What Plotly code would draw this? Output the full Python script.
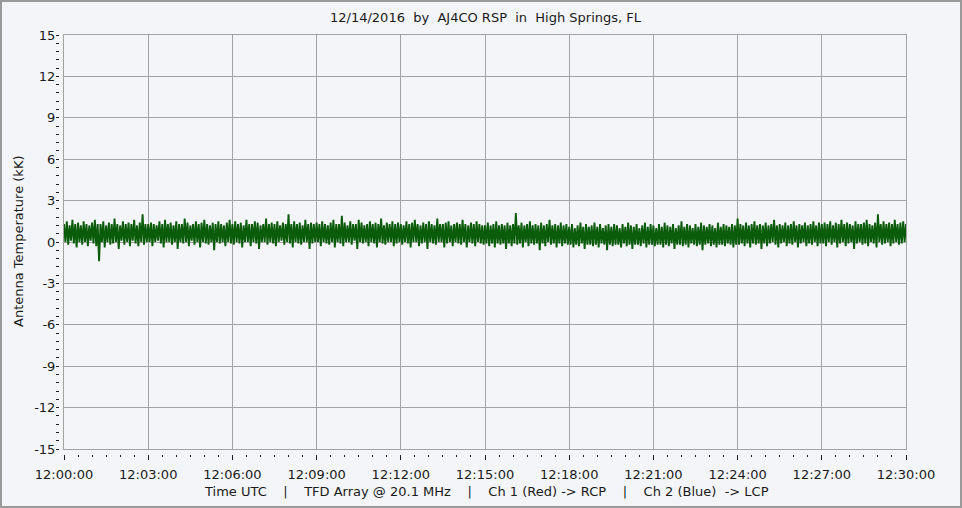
import pandas as pd
import plotly.graph_objects as go

# ---------------- data ----------------
title_text = "12/14/2016  by  AJ4CO RSP  in  High Springs, FL"
x_title_text = "Time UTC    |    TFD Array @ 20.1 MHz    |    Ch 1 (Red) -> RCP    |    Ch 2 (Blue)  -> LCP"
y_title_text = "Antenna Temperature (kK)"

t_start = "2016-12-14 12:00:00"
t_end = "2016-12-14 12:30:00"

y_tick_vals = [-15, -12, -9, -6, -3, 0, 3, 6, 9, 12, 15]
y_tick_labels = ["-15", "-12", "-9", "-6", "-3", "0", "3", "6", "9", "12", "15"]

# antenna temperature (kK), one 3-minute block per list
seg_1200 = [1.3, 0.0, 1.5, -0.2, 1.2, 0.1, 1.6, -0.1, 1.3, -0.4,
            1.4, 0.0, 1.2, -0.2, 1.5, 0.0, 1.3, -0.3, 1.2, 0.1,
            1.4, -0.1, 1.6, -0.3, 1.3, -1.4, 1.3, 0.0, 1.5, -0.4,
            1.2, 0.0, 1.4, -0.2, 1.3, -0.1, 1.7, 0.0, 1.3, -0.5,
            1.2, 0.1, 1.5, -0.2, 1.3, 0.0, 1.4, -0.3, 1.3, 0.1,
            1.6, -0.1, 1.2, -0.3, 1.4, 0.0, 2.0, -0.2, 1.3, 0.0]
seg_1203 = [1.3, 0.0, 1.4, -0.3, 1.3, 0.0, 1.2, 0.1, 1.5, -0.1,
            1.3, -0.4, 1.6, 0.0, 1.3, 0.0, 1.4, -0.2, 1.2, 0.0,
            1.5, -0.5, 1.3, 0.0, 1.3, -0.1, 1.7, 0.0, 1.4, -0.3,
            1.2, 0.1, 1.3, -0.2, 1.5, 0.0, 1.3, -0.4, 1.4, 0.0,
            1.6, -0.1, 1.3, -0.2, 1.2, 0.0, 1.4, -0.6, 1.3, 0.0,
            1.5, -0.1, 1.3, 0.0, 1.2, -0.3, 1.4, 0.0, 1.6, -0.1]
seg_1206 = [1.3, -0.2, 1.5, 0.0, 1.3, -0.1, 1.4, -0.4, 1.2, 0.0,
            1.6, 0.0, 1.3, -0.3, 1.3, 0.0, 1.5, -0.1, 1.4, -0.5,
            1.2, 0.0, 1.3, 0.0, 1.7, -0.2, 1.3, 0.0, 1.4, -0.1,
            1.3, -0.3, 1.5, 0.0, 1.2, 0.1, 1.4, -0.2, 1.3, 0.0,
            2.0, -0.1, 1.3, -0.4, 1.5, 0.0, 1.3, -0.1, 1.4, -0.2,
            1.2, 0.0, 1.6, 0.0, 1.3, -0.5, 1.4, -0.1, 1.3, 0.0]
seg_1209 = [1.4, 0.0, 1.3, -0.3, 1.5, 0.0, 1.3, -0.1, 1.2, -0.2,
            1.4, 0.0, 1.6, -0.4, 1.3, 0.0, 1.3, -0.1, 1.9, -0.3,
            1.4, 0.0, 1.2, 0.0, 1.5, -0.2, 1.3, 0.1, 1.3, -0.5,
            1.6, 0.0, 1.4, -0.1, 1.2, 0.0, 1.3, -0.3, 1.5, 0.0,
            1.3, -0.1, 1.4, -0.4, 1.3, 0.0, 1.7, -0.1, 1.2, -0.2,
            1.4, 0.0, 1.3, 0.0, 1.5, -0.3, 1.3, -0.1, 1.4, 0.0]
seg_1212 = [1.3, -0.2, 1.2, 0.0, 1.5, -0.1, 1.3, -0.4, 1.4, 0.0,
            1.6, 0.0, 1.3, -0.3, 1.2, -0.1, 1.4, 0.0, 1.3, -0.5,
            1.5, 0.0, 1.3, -0.1, 1.2, -0.2, 1.7, 0.0, 1.3, 0.0,
            1.3, -0.4, 1.4, -0.1, 1.5, 0.0, 1.2, -0.3, 1.3, 0.0,
            1.4, -0.1, 1.3, -0.2, 1.6, 0.0, 1.3, -0.4, 1.2, 0.0,
            1.4, -0.1, 1.3, -0.3, 1.5, 0.0, 1.3, -0.1, 1.2, -0.2]
seg_1215 = [1.2, -0.1, 1.4, -0.3, 1.2, -0.1, 1.3, -0.4, 1.5, -0.1,
            1.2, -0.2, 1.3, -0.1, 1.2, -0.5, 1.4, -0.1, 1.2, -0.3,
            1.3, -0.1, 2.1, -0.2, 1.2, -0.1, 1.4, -0.4, 1.2, 0.0,
            1.3, -0.3, 1.5, -0.1, 1.2, -0.2, 1.3, -0.1, 1.2, -0.6,
            1.4, -0.1, 1.2, -0.3, 1.3, 0.0, 1.6, -0.2, 1.2, -0.1,
            1.3, -0.4, 1.2, -0.1, 1.4, -0.3, 1.2, -0.1, 1.3, -0.2]
seg_1218 = [1.1, -0.2, 1.3, -0.4, 1.0, -0.2, 1.2, -0.3, 1.4, -0.1,
            1.1, -0.5, 1.3, -0.2, 1.1, -0.2, 1.2, -0.3, 1.4, -0.2,
            1.1, -0.4, 1.3, -0.1, 1.0, -0.2, 1.2, -0.6, 1.3, -0.2,
            1.1, -0.3, 1.3, -0.2, 1.2, -0.2, 1.0, -0.4, 1.3, -0.1,
            1.1, -0.3, 1.4, -0.2, 1.2, -0.5, 1.1, -0.2, 1.3, -0.2,
            1.0, -0.3, 1.2, -0.1, 1.4, -0.4, 1.1, -0.2, 1.3, -0.2]
seg_1221 = [1.2, -0.3, 1.0, -0.2, 1.3, -0.2, 1.1, -0.4, 1.4, -0.2,
            1.2, -0.3, 1.1, -0.1, 1.3, -0.5, 1.0, -0.2, 1.2, -0.2,
            1.5, -0.3, 1.1, -0.2, 1.3, -0.4, 1.2, -0.1, 1.0, -0.2,
            1.3, -0.3, 1.1, -0.2, 1.4, -0.6, 1.2, -0.2, 1.1, -0.1,
            1.3, -0.3, 1.2, -0.2, 1.0, -0.4, 1.4, -0.2, 1.1, -0.2,
            1.3, -0.3, 1.2, -0.1, 1.1, -0.2, 1.3, -0.4, 1.2, -0.2]
seg_1224 = [1.7, -0.2, 1.3, -0.1, 1.2, -0.3, 1.4, -0.1, 1.2, -0.4,
            1.3, -0.1, 1.5, -0.2, 1.2, -0.1, 1.3, -0.5, 1.2, -0.1,
            1.4, -0.3, 1.2, -0.1, 1.3, 0.0, 1.6, -0.2, 1.2, -0.4,
            1.3, -0.1, 1.2, 0.0, 1.4, -0.3, 1.2, -0.1, 1.3, -0.2,
            1.5, 0.0, 1.2, -0.4, 1.3, -0.1, 1.2, 0.0, 1.4, -0.3,
            1.2, -0.1, 1.3, -0.2, 1.5, 0.0, 1.2, -0.3, 1.4, -0.1]
seg_1227 = [1.3, -0.1, 1.4, -0.3, 1.3, 0.0, 1.5, -0.2, 1.2, 0.0,
            1.4, -0.4, 1.3, -0.1, 1.6, 0.0, 1.3, -0.3, 1.4, -0.1,
            1.3, 0.0, 1.2, -0.5, 1.5, -0.1, 1.3, 0.0, 1.3, -0.2,
            1.4, -0.1, 1.6, -0.3, 1.3, 0.0, 1.2, -0.1, 1.4, -0.4,
            2.0, 0.0, 1.3, -0.2, 1.5, -0.1, 1.3, 0.0, 1.4, -0.3,
            1.3, -0.1, 1.6, 0.0, 1.3, -0.2, 1.4, -0.1, 1.5, 0.0, 1.3]

temps = (seg_1200 + seg_1203 + seg_1206 + seg_1209 + seg_1212 +
         seg_1215 + seg_1218 + seg_1221 + seg_1224 + seg_1227)
times = pd.date_range(t_start, t_end, periods=len(temps))

# ---------------- layout geometry ----------------
W, H = 962, 508
ML, MR, MT, MB = 59, 56, 35, 54
PW = W - ML - MR
PH = H - MT - MB
GAP = 5

def px(x):
    return (x - ML) / PW

def py(y):
    return (H - MB - y) / PH

FONT = "DejaVu Sans"
BG = "#f4f5f8"
GRID = "#a3a3a3"
TICK = "#1c1c2c"
TXT = "#1a1a1a"

fig = go.Figure()
fig.add_trace(go.Scatter(x=times, y=temps, mode="lines",
                         line=dict(color="#0a5c0a", width=1.9, simplify=False),
                         xaxis="x", yaxis="y", hoverinfo="skip",
                         showlegend=False))
# empty trace to host the tick-only overlay axes
fig.add_trace(go.Scatter(x=[], y=[], xaxis="x2", yaxis="y2",
                         showlegend=False, hoverinfo="skip"))

fig.update_layout(
    width=W, height=H,
    margin=dict(l=ML, r=MR, t=MT, b=MB, pad=0),
    paper_bgcolor=BG, plot_bgcolor=BG,
    font=dict(family=FONT, size=13, color=TXT),
    showlegend=False,
    xaxis=dict(type="date", range=[t_start, t_end], domain=[GAP / PW, 1],
               anchor="y", tick0=t_start, dtick=180000,
               showgrid=True, gridcolor=GRID, gridwidth=1,
               showticklabels=False, ticks="",
               showline=True, linecolor=GRID, linewidth=1, mirror=True,
               zeroline=False, fixedrange=True, automargin=False),
    yaxis=dict(range=[-15, 15], domain=[GAP / PH, 1], anchor="x",
               tickvals=y_tick_vals, showgrid=True, gridcolor=GRID, gridwidth=1,
               showticklabels=False, ticks="",
               showline=True, linecolor=GRID, linewidth=1, mirror=True,
               zeroline=False, fixedrange=True, automargin=False),
    xaxis2=dict(type="date", range=[t_start, t_end], domain=[GAP / PW, 1],
                overlaying="x", anchor="free", position=0, side="bottom",
                tick0=t_start, dtick=180000, tickformat="%H:%M:%S",
                ticks="outside", ticklen=5, tickwidth=1, tickcolor=TICK,
                minor=dict(ticks="outside", ticklen=2, tickwidth=1,
                           tickcolor=TICK, dtick=30000, showgrid=False),
                showgrid=False, showline=False, zeroline=False,
                ticklabelstandoff=3,
                tickfont=dict(family=FONT, size=13, color=TXT),
                fixedrange=True, automargin=False),
    yaxis2=dict(range=[-15, 15], domain=[GAP / PH, 1],
                overlaying="y", anchor="free", position=0, side="left",
                tickvals=y_tick_vals, ticktext=y_tick_labels,
                ticks="outside", ticklen=1, tickwidth=1, tickcolor=TICK,
                minor=dict(ticks="outside", ticklen=3, tickwidth=1,
                           tickcolor=TICK, dtick=0.6, tick0=-15, showgrid=False),
                showgrid=False, showline=False, zeroline=False,
                tickfont=dict(family=FONT, size=13, color=TXT),
                fixedrange=True, automargin=False),
    annotations=[
        dict(text=title_text.replace(" ", "\u00a0"), xref="paper", yref="paper",
             x=px(486), y=py(18), xanchor="center", yanchor="middle",
             showarrow=False, font=dict(family=FONT, size=13, color=TXT)),
        dict(text=x_title_text.replace(" ", "\u00a0"), xref="paper", yref="paper",
             x=px(486), y=py(491), xanchor="center", yanchor="middle",
             showarrow=False, font=dict(family=FONT, size=13, color=TXT)),
        dict(text=y_title_text.replace(" ", "\u00a0"), xref="paper", yref="paper",
             x=px(18), y=py(242), xanchor="center", yanchor="middle",
             textangle=-90, showarrow=False,
             font=dict(family=FONT, size=13, color=TXT)),
    ],
    shapes=[
        dict(type="rect", xref="paper", yref="paper",
             x0=px(1), x1=px(W - 1), y0=py(H - 1), y1=py(1),
             line=dict(color="#9a9a9a", width=2), fillcolor="rgba(0,0,0,0)",
             layer="above"),
    ],
)

fig.write_html("out.html",
               config={"displayModeBar": False, "staticPlot": True},
               post_script="document.body.style.margin='0';"
                           "document.body.style.overflow='hidden';")
